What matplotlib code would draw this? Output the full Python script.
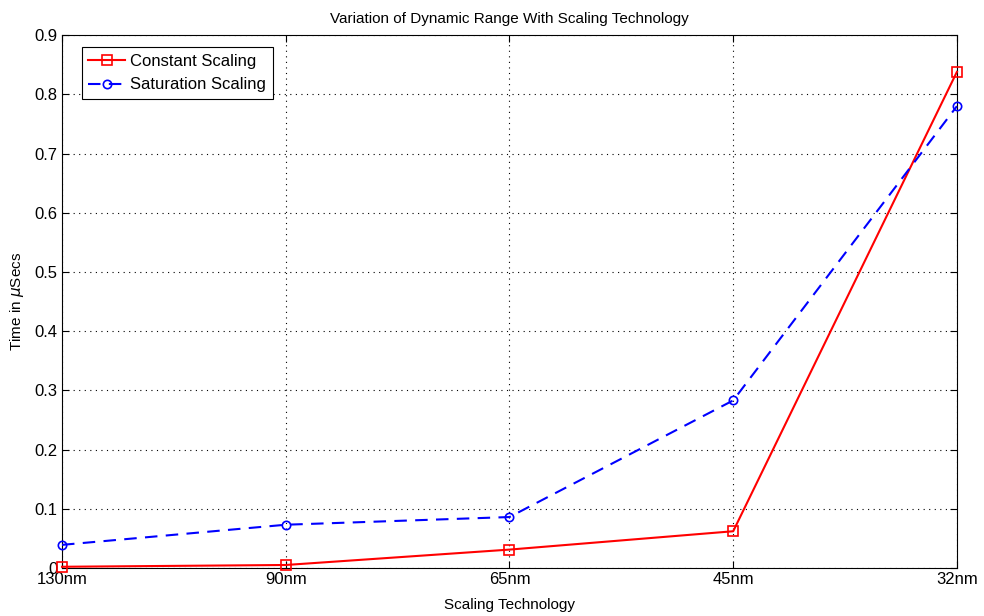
import matplotlib
matplotlib.use("Agg")
import matplotlib.pyplot as plt

# scaling nodes and measured times (usecs)
nodes = ["130nm", "90nm", "65nm", "45nm", "32nm"]
constant_scaling = [0.002, 0.005, 0.031, 0.062, 0.838]
saturation_scaling = [0.039, 0.073, 0.086, 0.283, 0.780]

plt.rcParams['font.family'] = ['Liberation Sans', 'DejaVu Sans']

fig = plt.figure(figsize=(9.84, 6.16), dpi=100)
ax = fig.add_axes([0.063, 0.078, 0.9095, 0.865])

x = range(len(nodes))
ax.plot(x, constant_scaling, color='red', linestyle='-', linewidth=1.5,
        marker='s', markersize=6.5, markerfacecolor='none', markeredgewidth=1.2,
        label='Constant Scaling', clip_on=False, zorder=3)
ax.plot(x, saturation_scaling, color='blue', linestyle='--', linewidth=1.5,
        dashes=(6, 4), marker='o', markersize=6, markerfacecolor='none',
        markeredgewidth=1.2, label='Saturation Scaling', clip_on=False, zorder=3)

ax.set_xlim(0, len(nodes) - 1)
ax.set_ylim(0, 0.9)
ax.set_xticks(list(x))
ax.set_xticklabels(nodes)
ax.set_yticks([i / 10 for i in range(10)])
ax.set_yticklabels(['0'] + ['%.1f' % (i / 10) for i in range(1, 10)])
ax.tick_params(direction='in', labelsize=12, length=5, top=True, right=True, pad=3)

ax.grid(True, linestyle=(0, (1, 4)), color='black', linewidth=0.8)
for s in ax.spines.values():
    s.set_color('black')
    s.set_linewidth(0.8)

ax.set_title('Variation of Dynamic Range With Scaling Technology', fontsize=11, pad=9)
ax.set_xlabel('Scaling Technology', fontsize=11, labelpad=8)
ax.set_ylabel(r'Time in $\mu$Secs', fontsize=11, labelpad=6)

leg = ax.legend(loc='upper left', bbox_to_anchor=(0.022, 0.977), fontsize=12,
                fancybox=False, framealpha=1, edgecolor='black',
                handlelength=2.2, borderpad=0.4, labelspacing=0.5,
                handletextpad=0.3, borderaxespad=0)
leg.get_frame().set_linewidth(0.8)

fig.savefig('out.png', dpi=100)
